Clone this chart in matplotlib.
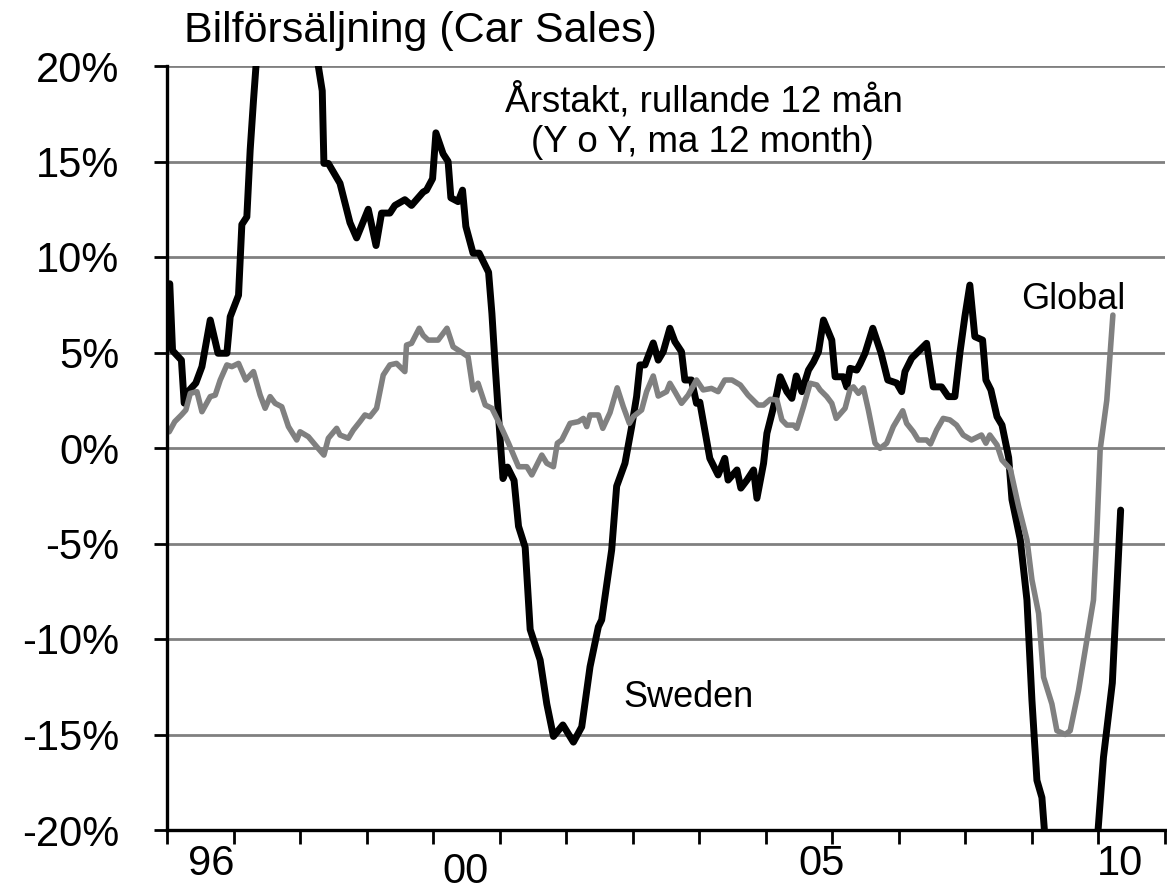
import matplotlib
matplotlib.use("Agg")
import matplotlib.pyplot as plt

plt.rcParams['font.family'] = ['Liberation Sans', 'DejaVu Sans']

# ---- data (x = months from the left edge of the axis, y = % y/y, rolling 12m) ----
sweden_month = [0.5, 1.0, 2.6, 3.1, 3.8, 5.2, 6.3, 7.8, 9.2, 10.8, 11.4, 12.9, 13.5, 14.4, 15.0, 15.6,
                16.8, 18.6, 21.3, 24.0, 26.2, 28.0, 28.3, 29.1, 31.2, 33.0, 34.2, 36.3, 37.7, 38.7,
                40.2, 41.1, 42.9, 44.1, 46.2, 46.8, 47.9, 48.5, 49.8, 50.7, 51.2, 52.5, 53.3, 53.9,
                55.2, 56.3, 58.0, 58.6, 59.2, 59.8, 60.6, 61.4, 62.6, 63.4, 64.6, 65.5, 67.3, 68.5,
                69.7, 71.4, 73.3, 74.8, 76.3, 77.8, 78.4, 80.2, 81.1, 82.6, 83.8, 84.7, 85.3, 86.2,
                87.7, 88.6, 89.5, 90.7, 91.6, 92.8, 93.4, 94.6, 95.5, 96.1, 97.0, 97.9, 99.4, 100.6,
                101.2, 102.8, 103.5, 104.6, 105.8, 106.4, 107.6, 108.2, 109.1, 110.0, 110.6, 111.8,
                112.7, 113.5, 114.5, 115.7, 116.6, 117.5, 118.4, 119.9, 120.5, 122.0, 122.6, 123.2,
                124.4, 125.0, 125.9, 127.3, 128.8, 130.0, 131.6, 132.5, 133.1, 134.3, 135.8, 137.0,
                138.2, 139.7, 140.9, 142.1, 143.0, 143.9, 144.8, 145.7, 147.1, 147.7, 148.6, 149.7,
                150.6, 151.8, 152.4, 153.9, 155.1, 156.0, 156.9, 157.8, 159.3, 161.1, 162.9, 164.7,
                166.5, 167.8, 168.9, 170.5, 172.0]
sweden_val = [8.6, 5.1, 4.6, 2.35, 2.95, 3.4, 4.26, 6.7, 4.96, 4.96, 6.87, 8.0, 11.7, 12.1, 15.6, 18.2,
              23.0, 27.0, 28.0, 26.0, 22.0, 18.7, 14.9, 14.9, 13.86, 11.8, 11.0, 12.5, 10.6, 12.3,
              12.3, 12.7, 13.0, 12.7, 13.4, 13.5, 14.1, 16.5, 15.4, 15.0, 13.1, 12.9, 13.5, 11.6,
              10.2, 10.2, 9.2, 7.05, 4.26, 1.64, -1.6, -1.0, -1.7, -4.1, -5.2, -9.5, -11.1, -13.4,
              -15.1, -14.5, -15.4, -14.6, -11.45, -9.36, -9.0, -5.34, -2.0, -0.8, 1.1, 2.7, 4.35, 4.35,
              5.5, 4.6, 5.04, 6.27, 5.57, 5.04, 3.56, 3.56, 2.34, 2.4, 0.94, -0.54, -1.41, -0.54,
              -1.68, -1.15, -2.1, -1.68, -1.15, -2.63, -0.8, 0.77, 1.8, 2.86, 3.73, 2.95,
              2.6, 3.77, 2.95, 4.08, 4.5, 5.04, 6.7, 5.65, 3.73, 3.73, 3.2, 4.17,
              4.08, 4.4, 4.96, 6.27, 4.96, 3.56, 3.4, 2.95, 4.0, 4.7, 5.13, 5.48,
              3.2, 3.2, 2.69, 2.69, 4.96, 6.87, 8.53, 5.83, 5.65, 3.56, 3.04, 1.64,
              1.2, -0.5, -2.7, -4.8, -7.96, -13.2, -17.4, -18.3, -24.0, -30.0, -34.0, -33.0,
              -28.0, -20.5, -16.2, -12.3, -3.25]

global_month = [0.4, 1.4, 2.6, 3.4, 4.2, 5.4, 6.3, 7.8, 8.7, 9.6, 10.8, 11.7, 12.9, 14.2, 15.6, 16.8,
                17.7, 18.6, 19.5, 20.7, 21.9, 23.4, 24.0, 25.5, 27.0, 28.3, 29.1, 30.6, 31.2, 32.7,
                33.6, 34.8, 35.7, 36.6, 37.8, 39.0, 40.2, 41.4, 42.9, 43.2, 44.1, 45.5, 46.2, 47.1,
                48.9, 50.5, 51.6, 53.4, 54.3, 55.2, 56.1, 57.4, 58.6, 60.1, 61.6, 63.4, 64.9, 65.8,
                67.6, 68.5, 69.7, 70.4, 71.2, 72.7, 74.2, 75.1, 75.7, 76.3, 77.8, 78.6, 79.9, 81.2,
                82.3, 83.4, 84.1, 85.6, 86.5, 87.7, 88.6, 90.1, 90.7, 91.6, 92.8, 94.0, 95.5, 96.7,
                98.2, 99.4, 100.6, 101.9, 103.4, 104.8, 106.6, 107.6, 108.8, 110.0, 110.9, 111.8,
                113.0, 113.6, 114.8, 116.0, 117.2, 117.8, 119.0, 119.9, 120.7, 122.3, 123.2, 123.8,
                124.7, 125.6, 126.5, 127.7, 128.6, 129.8, 131.0, 132.7, 133.4, 134.6, 135.5, 137.0,
                137.7, 138.8, 140.0, 141.2, 142.4, 143.6, 145.1, 146.3, 146.9, 147.7, 148.4, 149.7,
                150.6, 152.1, 153.6, 155.1, 156.0, 157.2, 158.1, 159.6, 160.5, 162.0, 162.9, 164.4,
                165.6, 167.1, 167.7, 168.3, 169.5, 170.6]
global_val = [0.85, 1.38, 1.73, 1.99, 2.86, 2.95, 1.9, 2.69, 2.77, 3.56, 4.35, 4.26, 4.43, 3.56, 4.0, 2.77,
              2.08, 2.69, 2.34, 2.16, 1.12, 0.42, 0.85, 0.59, 0.07, -0.37, 0.51, 1.03, 0.68, 0.51,
              0.94, 1.38, 1.73, 1.64, 2.08, 3.82, 4.35, 4.43, 4.0, 5.39, 5.48, 6.27, 5.9, 5.65,
              5.65, 6.27, 5.3, 4.96, 4.78, 3.04, 3.39, 2.25, 2.08, 1.2, 0.25, -0.98, -0.98, -1.41,
              -0.37, -0.8, -0.98, 0.25, 0.42, 1.29, 1.38, 1.55, 1.12, 1.73, 1.73, 1.03, 1.85, 3.15,
              2.16, 1.29, 1.64, 1.99, 2.95, 3.77, 2.72, 2.95, 3.39, 2.95, 2.34, 2.77, 3.56, 3.04,
              3.12, 2.95, 3.56, 3.56, 3.3, 2.77, 2.25, 2.25, 2.55, 2.51, 1.47, 1.2,
              1.2, 1.03, 2.16, 3.39, 3.3, 3.04, 2.69, 2.34, 1.55, 2.08, 3.07, 3.2,
              2.86, 3.15, 1.99, 0.25, -0.02, 0.25, 1.12, 1.95, 1.29, 0.85, 0.42, 0.42,
              0.21, 0.94, 1.55, 1.47, 1.2, 0.68, 0.42, 0.59, 0.68, 0.25, 0.68, 0.16,
              -0.63, -1.1, -3.07, -4.8, -6.9, -8.66, -12.0, -13.4, -14.8, -15.0, -14.8, -12.7,
              -10.6, -7.96, -4.47, -0.1, 2.5, 6.96]

year_ticks = [0, 12, 24, 36, 48, 60, 72, 84, 96, 108, 120, 132, 144, 156, 168, 180]
year_label_pos = [7.9, 53.8, 118.0, 171.9]
year_labels = ['96', '00', '05', '10']
y_ticks = [-20, -15, -10, -5, 0, 5, 10, 15, 20]
y_labels = ['-20%', '-15%', '-10%', '-5%', '0%', '5%', '10%', '15%', '20%']

W, H = 1167, 894
fig = plt.figure(figsize=(W / 100, H / 100), dpi=100)
ax = fig.add_axes([167 / W, 1 - 830 / H, (1165 - 167) / W, (830 - 66) / H])

ax.set_xlim(0, 180)
ax.set_ylim(-20, 20)

for v in y_ticks[1:]:
    ax.axhline(v, color='#808080', lw=2.0, zorder=1)

ax.plot(sweden_month, sweden_val, color='black', lw=5.0, zorder=3,
        solid_joinstyle='round', solid_capstyle='round')
ax.plot(global_month, global_val, color='#808080', lw=4.0, zorder=4,
        solid_joinstyle='round', solid_capstyle='round')

for s in ['top', 'right']:
    ax.spines[s].set_visible(False)
ax.spines['left'].set_linewidth(2.4)
ax.spines['bottom'].set_linewidth(2.4)
ax.spines['left'].set_zorder(5)
ax.spines['bottom'].set_zorder(5)

ax.set_yticks(y_ticks)
ax.set_yticklabels(y_labels)
ax.tick_params(axis='y', direction='out', length=9.5, width=2.0, pad=25, labelsize=30)

ax.set_xticks(year_ticks)
ax.set_xticklabels([''] * len(year_ticks))
ax.tick_params(axis='x', which='major', direction='out', length=10, width=2.0)
ax.set_xticks(year_label_pos, minor=True)
ax.set_xticklabels(year_labels, minor=True)
ax.tick_params(axis='x', which='minor', length=0, pad=10, labelsize=30)
ax.xaxis.get_minor_ticks()[1].set_pad(16)

fig.text(184 / W, 1 - 42 / H, 'Bilförsäljning (Car Sales)', fontsize=31,
         ha='left', va='baseline')
fig.text(704 / W, 1 - 112 / H, 'Årstakt, rullande 12 mån', fontsize=26.5,
         ha='center', va='baseline')
fig.text(702 / W, 1 - 152 / H, '(Y o Y, ma 12 month)', fontsize=26.5,
         ha='center', va='baseline')
fig.text(1021 / W, 1 - 309 / H, 'Global', fontsize=26, ha='left', va='baseline')
fig.text(623 / W, 1 - 707 / H, 'Sweden', fontsize=26, ha='left', va='baseline')

fig.savefig('out.png', dpi=100)
